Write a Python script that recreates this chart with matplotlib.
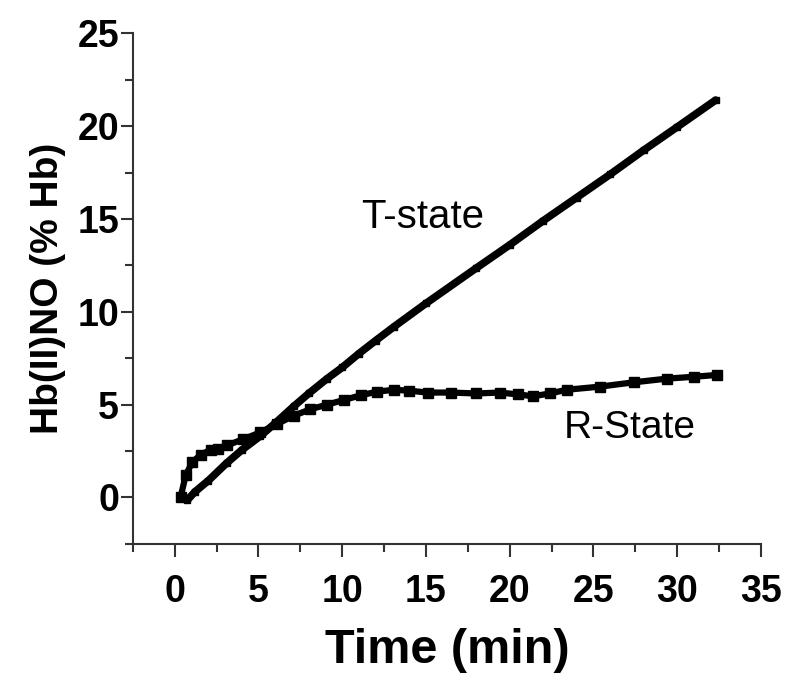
import matplotlib.pyplot as plt
from matplotlib.ticker import MultipleLocator

plt.rcParams['font.family'] = ['Liberation Sans', 'DejaVu Sans']

# T-state
t_time = [0.75, 1.2, 2.0, 3.1, 4.0, 5.1, 6.0, 7.1, 8.0, 9.1, 10.0, 11.0, 12.0,
          13.1, 15.0, 18.0, 20.0, 22.0, 24.0, 26.0, 28.0, 30.0, 32.3]
t_val = [-0.15, 0.3, 0.9, 1.85, 2.55, 3.3, 4.0, 4.9, 5.6, 6.4, 7.0, 7.75, 8.45,
         9.2, 10.45, 12.35, 13.6, 14.9, 16.15, 17.4, 18.7, 19.95, 21.4]

# R-state
r_time = [0.36, 0.66, 1.05, 1.55, 2.15, 2.6, 3.1, 4.1, 5.1, 6.1, 7.1, 8.1, 9.1,
          10.1, 11.1, 12.1, 13.1, 14.0, 15.1, 16.5, 18.0, 19.4, 20.5, 21.4,
          22.4, 23.4, 25.4, 27.4, 29.4, 31.0, 32.4]
r_val = [0.05, 1.2, 1.9, 2.3, 2.57, 2.6, 2.8, 3.14, 3.5, 3.95, 4.4, 4.75, 5.0,
         5.25, 5.5, 5.7, 5.8, 5.75, 5.65, 5.65, 5.6, 5.65, 5.55, 5.45,
         5.6, 5.8, 5.97, 6.2, 6.4, 6.5, 6.6]

fig = plt.figure(figsize=(7.86, 6.79), dpi=100)
ax = fig.add_axes([0.169, 0.199, 0.799, 0.752])

ax.plot(t_time, t_val, color='black', lw=5.5, marker='s', ms=5,
        solid_capstyle='round', solid_joinstyle='round')
ax.plot(r_time, r_val, color='black', lw=4.5, marker='s', ms=7,
        solid_joinstyle='round')

ax.text(14.8, 14.5, 'T-state', fontsize=29, ha='center', va='baseline')
ax.text(27.2, 3.2, 'R-State', fontsize=28, ha='center', va='baseline')

ax.set_xlim(-2.5, 35)
ax.set_ylim(-2.5, 25)
ax.xaxis.set_major_locator(MultipleLocator(5))
ax.xaxis.set_minor_locator(MultipleLocator(2.5))
ax.yaxis.set_major_locator(MultipleLocator(5))
ax.yaxis.set_minor_locator(MultipleLocator(2.5))

for s in ['top', 'right']:
    ax.spines[s].set_visible(False)
for s in ['left', 'bottom']:
    ax.spines[s].set_linewidth(1.5)
    ax.spines[s].set_color('#333333')

ax.tick_params(which='major', direction='out', length=9, width=1.5, color='#333333',
               labelsize=27)
ax.tick_params(which='minor', direction='out', length=6, width=1.5, color='#333333')
ax.tick_params(axis='x', which='major', pad=13)
ax.tick_params(axis='y', which='major', pad=1)
for lab in ax.get_xticklabels() + ax.get_yticklabels():
    lab.set_fontweight('bold')

ax.set_xlabel('Time (min)', fontsize=35, fontweight='bold', labelpad=13)
ax.set_ylabel('Hb(II)NO (% Hb)', fontsize=28, fontweight='bold', labelpad=8)

fig.savefig('out.png', dpi=100)
